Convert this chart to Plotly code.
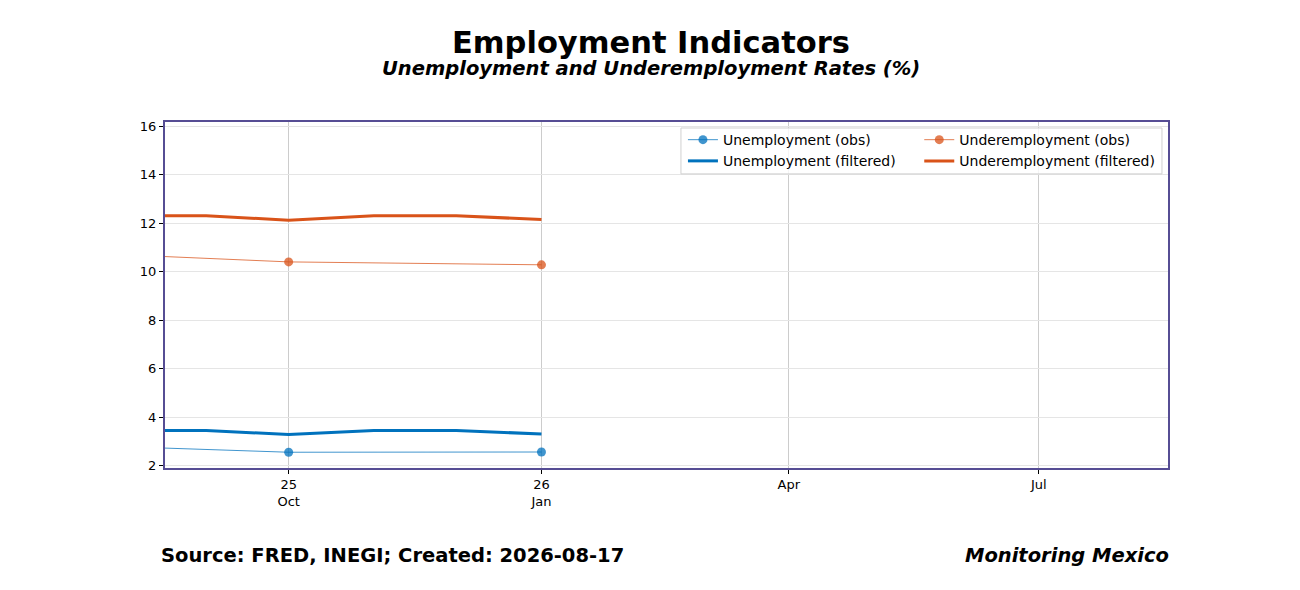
import plotly.graph_objects as go

# quarterly observations
obs_dates = ['2025-07-01', '2025-10-01', '2026-01-01']
unemp_obs = [2.90, 2.55, 2.56]
underemp_obs = [10.85, 10.40, 10.28]

# monthly filtered estimates
filt_dates = ['2025-08-01', '2025-09-01', '2025-10-01', '2025-11-01', '2025-12-01', '2026-01-01']
unemp_filt = [3.45, 3.45, 3.28, 3.45, 3.45, 3.30]
underemp_filt = [12.30, 12.30, 12.12, 12.30, 12.30, 12.15]

tick_vals = ['2025-10-01', '2026-01-01', '2026-04-01', '2026-07-01']
tick_text = ['25<br>Oct', '26<br>Jan', 'Apr', 'Jul']
x_range = ['2025-08-17', '2026-08-17']
y_range = [1.9, 16.17]

BLUE = '#0072BD'
ORANGE = '#D95319'
FONT = 'DejaVu Sans'

fig = go.Figure()
fig.add_trace(go.Scatter(
    name='Unemployment (obs)', x=obs_dates, y=unemp_obs, mode='lines+markers',
    line={'width': 1, 'color': 'rgba(0,114,189,0.75)'},
    marker={'size': 9, 'color': 'rgba(0,114,189,0.75)'}, legend='legend'))
fig.add_trace(go.Scatter(
    name='Unemployment (filtered)', x=filt_dates, y=unemp_filt, mode='lines',
    line={'width': 3, 'color': BLUE}, legend='legend'))
fig.add_trace(go.Scatter(
    name='Underemployment (obs)', x=obs_dates, y=underemp_obs, mode='lines+markers',
    line={'width': 1, 'color': 'rgba(217,83,25,0.75)'},
    marker={'size': 9, 'color': 'rgba(217,83,25,0.75)'}, legend='legend2'))
fig.add_trace(go.Scatter(
    name='Underemployment (filtered)', x=filt_dates, y=underemp_filt, mode='lines',
    line={'width': 3, 'color': ORANGE}, legend='legend2'))

leg_common = {'y': 0.994, 'yanchor': 'top', 'xanchor': 'left',
              'bgcolor': 'rgba(0,0,0,0)', 'borderwidth': 0,
              'font': {'family': FONT, 'size': 14}, 'tracegroupgap': 0}

# page body has ~7px offset, so margins are trimmed to land the plot where the reference has it
fig.update_layout(
    width=1300, height=590,
    margin={'l': 157, 'r': 140, 't': 114, 'b': 130},
    paper_bgcolor='white', plot_bgcolor='white',
    font={'family': FONT, 'size': 13, 'color': 'black'},
    showlegend=True,
    legend={**leg_common, 'x': 0.5164},
    legend2={**leg_common, 'x': 0.752},
    xaxis={'type': 'date', 'range': x_range, 'tickvals': tick_vals, 'ticktext': tick_text,
           'showgrid': True, 'gridcolor': '#cccccc', 'gridwidth': 1,
           'ticks': 'outside', 'ticklen': 4, 'tickcolor': 'black',
           'ticklabelstandoff': -1,
           'showline': True, 'linecolor': '#564d94', 'linewidth': 2, 'mirror': True,
           'zeroline': False},
    yaxis={'range': y_range, 'dtick': 2, 'tick0': 0,
           'showgrid': True, 'gridcolor': '#e5e5e5', 'gridwidth': 1,
           'ticks': 'outside', 'ticklen': 4, 'tickcolor': 'black',
           'showline': True, 'linecolor': '#564d94', 'linewidth': 2, 'mirror': True,
           'zeroline': False},
)

# shared legend frame
fig.add_shape(type='rect', xref='paper', yref='paper',
              x0=0.5144, x1=0.994, y0=0.850, y1=0.9827,
              fillcolor='rgba(255,255,255,0.8)', line={'color': '#d0d0d0', 'width': 1},
              layer='above')

# titles are centred on the page, not on the plot area
fig.add_annotation(text='<b>Employment Indicators</b>', xref='paper', yref='paper',
                   x=0.5, xshift=-16, y=1, yshift=99, showarrow=False,
                   font={'family': FONT, 'size': 30.5})
fig.add_annotation(text='<b><i>Unemployment and Underemployment Rates (%)</i></b>',
                   xref='paper', yref='paper', x=0.5, xshift=-16, y=1, yshift=67,
                   showarrow=False, font={'family': FONT, 'size': 19.5})
fig.add_annotation(text='<b>Source: FRED, INEGI; Created: 2026-08-17</b>',
                   xref='paper', yref='paper', x=0, xanchor='left', xshift=-6,
                   y=0, yshift=-101, showarrow=False,
                   font={'family': FONT, 'size': 19.5})
fig.add_annotation(text='<b><i>Monitoring Mexico</i></b>',
                   xref='paper', yref='paper', x=1, xanchor='right', xshift=3,
                   y=0, yshift=-101, showarrow=False,
                   font={'family': FONT, 'size': 19.5})

fig.write_html('out.html')
